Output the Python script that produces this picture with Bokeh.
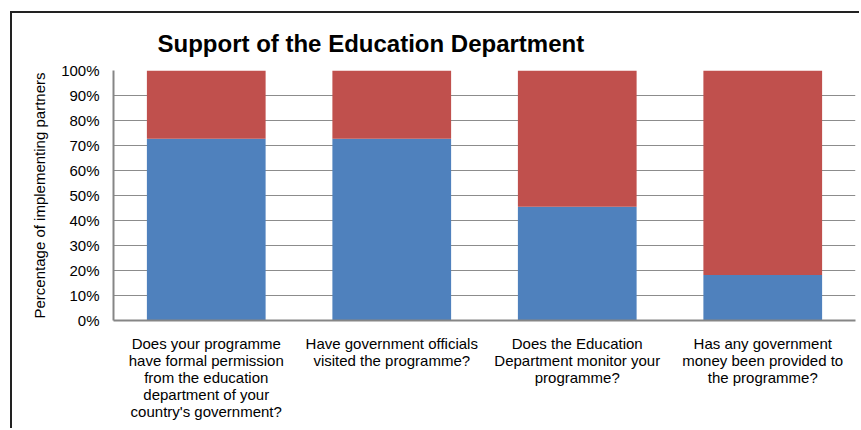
from bokeh.plotting import figure
from bokeh.models import FactorRange, Range1d, NumeralTickFormatter, FixedTicker, Title
from bokeh.embed import file_html
from bokeh.resources import INLINE

# ---- data ----
categories = [
    "Does your programme\nhave formal permission\nfrom the education\ndepartment of your\ncountry's government?",
    "Have government officials\nvisited the programme?",
    "Does the Education\nDepartment monitor your\nprogramme?",
    "Has any government\nmoney been provided to\nthe programme?",
]
yes_share = [0.727, 0.727, 0.455, 0.182]
no_share = [0.273, 0.273, 0.545, 0.818]
y_ticks = [0.0, 0.1, 0.2, 0.3, 0.4, 0.5, 0.6, 0.7, 0.8, 0.9, 1.0]
title_text = "Support of the Education Department"
y_label = "Percentage of implementing partners"

FONT = "Liberation Sans"

p = figure(
    width=849, height=417,
    x_range=FactorRange(factors=categories, range_padding=0),
    y_range=Range1d(0, 1),
    output_backend="svg", toolbar_location=None,
    min_border_left=101, min_border_right=6,
    min_border_top=57, min_border_bottom=110,
    styles={"border-left": "2px solid #222", "border-top": "2px solid #222",
            "margin-left": "10px", "margin-top": "11px"},
)

data = dict(cat=categories, yes=yes_share, no=no_share)
p.vbar_stack(["yes", "no"], x="cat", width=0.64, source=data,
             color=["#4F81BD", "#C0504D"], line_color=None)

t = Title(text=title_text, align="left", offset=44, standoff=27,
          text_font=FONT, text_font_size="24px", text_font_style="bold",
          text_color="#000000")
p.add_layout(t, "above")

p.outline_line_color = None
p.xgrid.grid_line_color = None
p.ygrid.grid_line_color = "#8c8c8c"
p.ygrid.grid_line_width = 1
p.ygrid.ticker = FixedTicker(ticks=y_ticks)

p.yaxis.ticker = FixedTicker(ticks=y_ticks)
p.yaxis.formatter = NumeralTickFormatter(format="0%")
p.yaxis.axis_label = y_label
p.yaxis.axis_label_text_font = FONT
p.yaxis.axis_label_text_font_size = "15px"
p.yaxis.axis_label_text_font_style = "normal"
p.yaxis.axis_label_text_color = "#000000"
p.yaxis.axis_label_standoff = 10
p.yaxis.major_label_standoff = 14

for ax in (p.xaxis[0], p.yaxis[0]):
    ax.axis_line_color = "#868686"
    ax.axis_line_width = 2
    ax.major_tick_line_color = None
    ax.minor_tick_line_color = None
    ax.major_tick_out = 0
    ax.major_tick_in = 0
    ax.major_label_text_font = FONT
    ax.major_label_text_font_size = "15px"
    ax.major_label_text_color = "#000000"

p.xaxis.major_label_standoff = 14
p.xaxis.major_label_text_line_height = 1.0

open("out.html", "w").write(file_html(p, INLINE))
